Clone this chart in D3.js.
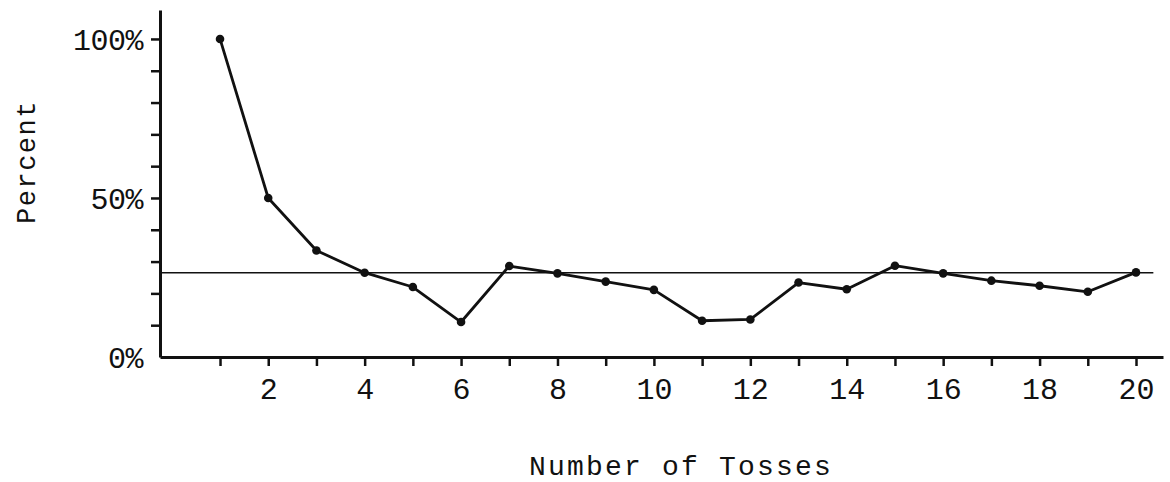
<!DOCTYPE html>
<html>
<head>
<meta charset="utf-8">
<script src="https://cdn.jsdelivr.net/npm/d3@7"></script>
<style>
  html, body { margin: 0; padding: 0; background: #fff; }
  svg { display: block; }
  text { font-family: "Liberation Mono", "DejaVu Sans Mono", monospace; fill: #111; }
</style>
</head>
<body>
<svg id="chart" width="1170" height="482"></svg>
<script>
// ---- data ----
const tosses = [1,2,3,4,5,6,7,8,9,10,11,12,13,14,15,16,17,18,19,20];
const percent = [100, 50, 33.5, 26.5, 22, 11, 28.6, 26.3, 23.7, 21.1, 11.4, 11.8, 23.4, 21.3, 28.7, 26.3, 24, 22.4, 20.5, 26.6];
const referenceValue = [26.5];
const xTickValues = [1,2,3,4,5,6,7,8,9,10,11,12,13,14,15,16,17,18,19,20];
const xTickLabels = ["","2","","4","","6","","8","","10","","12","","14","","16","","18","","20"];
const yTickValues = [0,10,20,30,40,50,60,70,80,90,100];
const yTickLabels = ["0%","","","","","50%","","","","","100%"];
const xTitle = "Number of Tosses";
const yTitle = "Percent";

// ---- layout ----
const svg = d3.select("#chart");
const x = d3.scaleLinear().domain([-0.245, 20.56]).range([160, 1163]);
const y = d3.scaleLinear().domain([0, 109.1]).range([357, 10]);
const ink = "#111";

// axes
const xAxis = d3.axisBottom(x)
  .tickValues(xTickValues)
  .tickFormat((d, i) => xTickLabels[i])
  .tickSize(9).tickSizeOuter(0).tickPadding(7);
const gx = svg.append("g").attr("transform", `translate(0,${y(0)})`).call(xAxis);
gx.select(".domain").attr("stroke", ink).attr("stroke-width", 3);
gx.selectAll(".tick line").attr("stroke", ink).attr("stroke-width", 2.5);
gx.selectAll(".tick text").attr("font-size", 30).attr("fill", ink)
  .attr("font-family", "Liberation Mono, monospace").attr("dy", "0.85em");

const yAxis = d3.axisLeft(y)
  .tickValues(yTickValues)
  .tickFormat((d, i) => yTickLabels[i])
  .tickSize(9).tickSizeOuter(0).tickPadding(8);
const gy = svg.append("g").attr("transform", `translate(${x.range()[0]},0)`).call(yAxis);
gy.select(".domain").attr("stroke", ink).attr("stroke-width", 3);
gy.selectAll(".tick line").attr("stroke", ink).attr("stroke-width", 2.5)
  .attr("opacity", d => d === 0 ? 0 : 1);
gy.selectAll(".tick text").attr("font-size", 30).attr("fill", ink)
  .attr("font-family", "Liberation Mono, monospace").attr("dy", "0.35em")
  .attr("letter-spacing", -0.5);

// reference line
svg.append("line")
  .attr("x1", x(-0.245)).attr("x2", x(20.36))
  .attr("y1", y(referenceValue[0])).attr("y2", y(referenceValue[0]))
  .attr("stroke", ink).attr("stroke-width", 1.6);

// data line
const pts = tosses.map((t, i) => [t, percent[i]]);
svg.append("path")
  .datum(pts)
  .attr("fill", "none").attr("stroke", ink).attr("stroke-width", 2.8)
  .attr("stroke-linejoin", "round")
  .attr("d", d3.line().x(d => x(d[0])).y(d => y(d[1])));

svg.append("g").selectAll("circle").data(pts).join("circle")
  .attr("cx", d => x(d[0])).attr("cy", d => y(d[1])).attr("r", 4.3)
  .attr("fill", ink);

// titles
svg.append("text")
  .attr("x", 681).attr("y", 475)
  .attr("text-anchor", "middle").attr("font-size", 28).attr("letter-spacing", 2.2)
  .text(xTitle);

svg.append("text")
  .attr("transform", "translate(35,162) rotate(-90)")
  .attr("text-anchor", "middle").attr("font-size", 27).attr("letter-spacing", 1.5)
  .text(yTitle);
</script>
</body>
</html>
